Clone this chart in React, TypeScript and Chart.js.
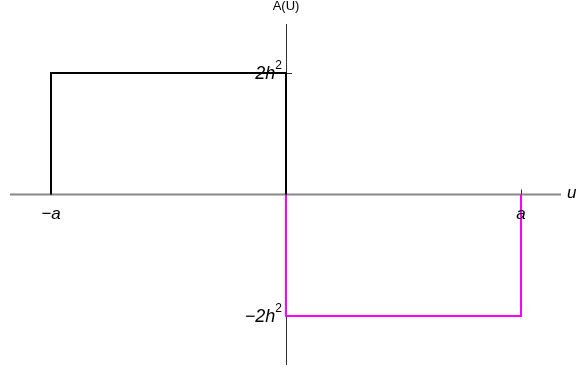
import React, { useEffect, useRef } from "react";
import { Chart, registerables } from "chart.js";

Chart.register(...registerables);

// Data (a = 1, h-units such that 2h^2 = 2)
const blackX = [-1, -1, 0, 0];
const blackY = [0, 2, 2, 0];
const magentaX = [0, 0, 1, 1];
const magentaY = [0, -2, -2, 0];

const xTicks = [
  { v: -1, label: "\u2212a" },
  { v: 1, label: "a" },
];
const yTicks = [
  { v: 2, base: "2h", sup: "2" },
  { v: -2, base: "\u22122h", sup: "2" },
];

const X_MIN = -1.1745;
const X_MAX = 1.1702;
const Y_MIN = -2.807;
const Y_MAX = 2.807;

const axesPlugin = {
  id: "axesPlugin",
  beforeDatasetsDraw(chart: any) {
    const { ctx, chartArea, scales } = chart;
    const xs = scales.x;
    const ys = scales.y;
    const x0 = xs.getPixelForValue(0);
    const y0 = ys.getPixelForValue(0);
    ctx.save();
    ctx.strokeStyle = "#888888";
    ctx.lineWidth = 2;
    ctx.beginPath();
    ctx.moveTo(chartArea.left, y0);
    ctx.lineTo(chartArea.right, y0);
    ctx.stroke();
    ctx.strokeStyle = "#333333";
    ctx.lineWidth = 1;
    ctx.beginPath();
    ctx.moveTo(Math.round(x0) + 0.5, chartArea.top);
    ctx.lineTo(Math.round(x0) + 0.5, chartArea.bottom);
    ctx.stroke();
    xTicks.forEach((t) => {
      const px = Math.round(xs.getPixelForValue(t.v)) + 0.5;
      ctx.beginPath();
      ctx.moveTo(px, y0 - 5);
      ctx.lineTo(px, y0);
      ctx.stroke();
    });
    yTicks.forEach((t) => {
      const py = Math.round(ys.getPixelForValue(t.v)) + 0.5;
      ctx.beginPath();
      ctx.moveTo(x0, py);
      ctx.lineTo(x0 + 6, py);
      ctx.stroke();
    });
    ctx.restore();
  },
  afterDraw(chart: any) {
    const { ctx, chartArea, scales } = chart;
    const xs = scales.x;
    const ys = scales.y;
    const x0 = xs.getPixelForValue(0);
    const y0 = ys.getPixelForValue(0);
    const fam = "'Liberation Sans', Arial, sans-serif";
    ctx.save();
    ctx.fillStyle = "#000000";
    ctx.font = `italic 17px ${fam}`;
    ctx.textAlign = "center";
    ctx.textBaseline = "middle";
    xTicks.forEach((t) => {
      ctx.fillText(t.label, xs.getPixelForValue(t.v), y0 + 20);
    });
    yTicks.forEach((t) => {
      const py = ys.getPixelForValue(t.v);
      ctx.font = `12px ${fam}`;
      const supW = ctx.measureText(t.sup).width;
      const right = x0 - 4;
      ctx.textAlign = "right";
      ctx.textBaseline = "middle";
      ctx.fillText(t.sup, right, py - 7);
      ctx.font = `italic 18px ${fam}`;
      ctx.fillText(t.base, right - supW, py + 1);
    });
    ctx.font = `13px ${fam}`;
    ctx.textAlign = "center";
    ctx.textBaseline = "middle";
    ctx.fillText("A(U)", x0, chartArea.top - 18);
    ctx.font = `italic 17px ${fam}`;
    ctx.textAlign = "left";
    ctx.fillText("u", chartArea.right + 6, y0 - 1);
    ctx.restore();
  },
};

export default function App() {
  const ref = useRef<HTMLCanvasElement | null>(null);
  useEffect(() => {
    if (!ref.current) return;
    const toPts = (xa: number[], ya: number[]) => xa.map((x, i) => ({ x, y: ya[i] }));
    const chart = new Chart(ref.current, {
      type: "scatter",
      data: {
        datasets: [
          {
            data: toPts(blackX, blackY),
            showLine: true,
            borderColor: "#000000",
            borderWidth: 2,
            pointRadius: 0,
            fill: false,
            tension: 0,
          },
          {
            data: toPts(magentaX, magentaY),
            showLine: true,
            borderColor: "#ff00ff",
            borderWidth: 2,
            pointRadius: 0,
            fill: false,
            tension: 0,
          },
        ],
      },
      options: {
        responsive: false,
        animation: false,
        layout: { padding: { left: 10, right: 20, top: 24, bottom: 4 } },
        plugins: { legend: { display: false }, tooltip: { enabled: false } },
        scales: {
          x: { type: "linear", min: X_MIN, max: X_MAX, display: false },
          y: { type: "linear", min: Y_MIN, max: Y_MAX, display: false },
        },
      },
      plugins: [axesPlugin],
    });
    return () => chart.destroy();
  }, []);
  return (
    <div style={{ position: "fixed", left: 0, top: 0, width: 581, height: 369, background: "#fff" }}>
      <canvas ref={ref} width={581} height={369} style={{ width: 581, height: 369 }} />
    </div>
  );
}
